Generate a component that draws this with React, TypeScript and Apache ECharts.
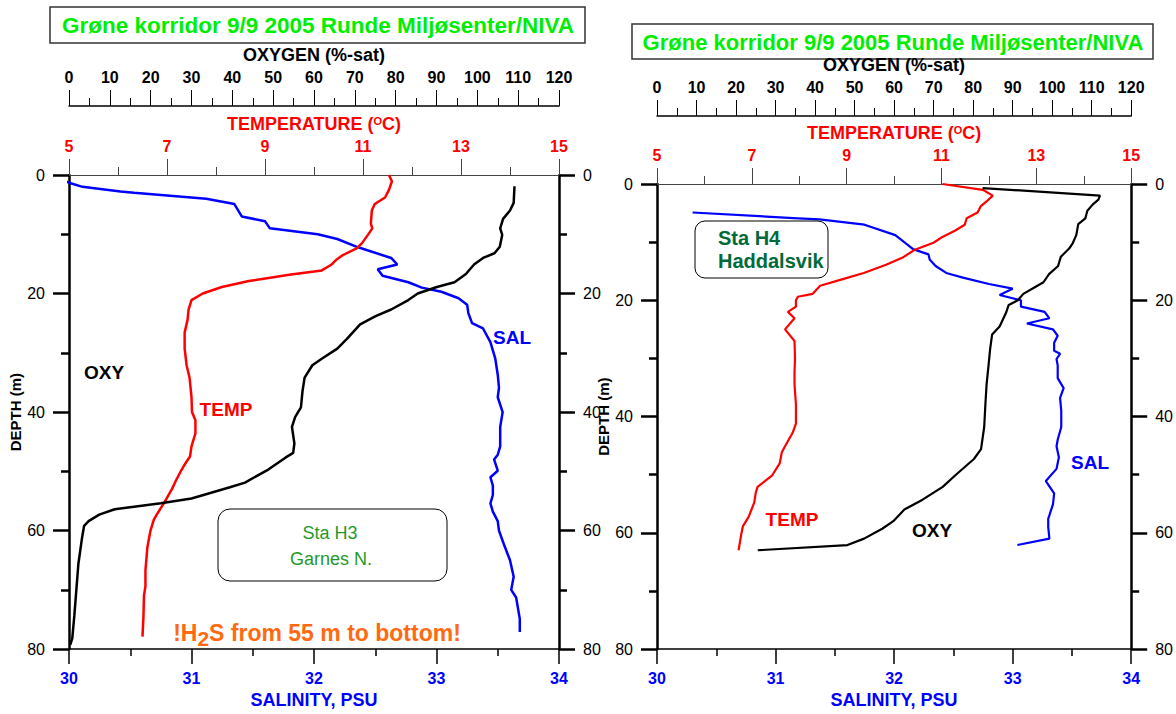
import React, { useEffect, useRef } from "react";
import * as echarts from "echarts";

const FONT = "'Liberation Sans', Arial, sans-serif";

// ---- Tick labels / titles ----
const titleText = "Grøne korridor 9/9 2005 Runde Miljøsenter/NIVA";
const oxygenName = "OXYGEN (%-sat)";
const tempName = "TEMPERATURE ({sup|O}C)";
const salName = "SALINITY, PSU";
const depthName = "DEPTH (m)";

// ---- Station H3 (Garnes N.) ----
const h3SalDepth = [0, 1.3, 2, 2.8, 3, 4, 4.9, 7, 7.8, 9, 10, 10.8, 12.2, 14, 15.1, 15.9, 17, 18.1, 19, 19.7, 20.8, 21.9, 23.3, 25, 25.9, 28.2, 31, 33.7, 35.9, 37.5, 40, 42.5, 45.8, 47.2, 48, 49.9, 51, 52.4, 54, 55.4, 56.8, 58.4, 60, 62.3, 65, 67.8, 70, 71.3, 74.9, 77.1];
const h3Sal = [29.86, 30, 30.11, 30.42, 30.53, 31.12, 31.35, 31.41, 31.6, 31.64, 32.03, 32.19, 32.36, 32.63, 32.68, 32.52, 32.56, 32.77, 32.88, 33.04, 33.18, 33.25, 33.26, 33.29, 33.38, 33.44, 33.48, 33.5, 33.51, 33.5, 33.54, 33.52, 33.52, 33.5, 33.47, 33.5, 33.44, 33.46, 33.46, 33.44, 33.46, 33.5, 33.51, 33.55, 33.6, 33.63, 33.61, 33.65, 33.68, 33.68];

const h3TempDepth = [0, 1.1, 2.5, 3.8, 4.9, 6, 8.2, 9, 10.1, 11.5, 12.4, 13.5, 14.2, 15.1, 16.1, 16.8, 17.9, 18.9, 20, 21.1, 22.7, 24.4, 26.6, 29.3, 32.1, 34.2, 37.5, 40, 41.4, 43.6, 45.8, 47.5, 48.6, 49.7, 51.6, 53, 55.2, 57.3, 58.2, 60.1, 62.8, 66.7, 69.4, 71, 74.4, 77.9];
const h3Temp = [11.53, 11.59, 11.53, 11.45, 11.24, 11.18, 11.16, 11.19, 11.1, 10.98, 10.87, 10.59, 10.47, 10.36, 10.16, 9.53, 8.67, 8.12, 7.73, 7.5, 7.44, 7.42, 7.36, 7.36, 7.4, 7.46, 7.5, 7.51, 7.58, 7.58, 7.5, 7.47, 7.38, 7.3, 7.18, 7.1, 6.95, 6.79, 6.73, 6.66, 6.6, 6.56, 6.56, 6.53, 6.52, 6.5];

const h3OxyDepth = [1.9, 4.7, 6, 7.4, 9, 10.1, 12.1, 13.2, 14, 15.1, 16.7, 18.1, 18.9, 20, 21.1, 22.7, 23.8, 25.2, 27.7, 29.3, 31, 32.1, 34.2, 36.4, 39.2, 40.8, 42.5, 45.3, 46.9, 47.7, 49.7, 51.9, 52.7, 54.6, 55.4, 56.4, 57.3, 58.4, 59.2, 61.2, 65.6, 70, 74.4, 78.2, 79.3];
const h3Oxy = [109.1, 108.9, 108, 106.3, 105.6, 106.1, 105.5, 104.2, 101.4, 99.2, 97.2, 94.4, 90.1, 85.4, 83.1, 78.9, 75.1, 71.3, 68, 65.7, 61.9, 59.6, 57.7, 57.2, 56.8, 55.4, 54.6, 55.2, 54.9, 53, 48.8, 43.1, 39.4, 30, 22.5, 11.2, 7.4, 4.8, 3.7, 3.2, 2.3, 1.8, 1.3, 0.8, 0.3];

// ---- Station H4 (Haddalsvik) ----
const h4SalDepth = [4.9, 5.9, 6.1, 7, 8.8, 9.9, 11.2, 12.1, 13, 14.1, 15.3, 16.1, 17.2, 18, 19.1, 20, 21.1, 22, 23.1, 24, 25, 26.1, 27.3, 28.7, 29.2, 30.1, 31.2, 33.4, 35.1, 36.8, 39, 41.8, 44, 45.1, 47, 49, 51.1, 53.2, 55.1, 57.6, 59, 61, 62.1];
const h4Sal = [30.3, 31.19, 31.37, 31.75, 32.01, 32.08, 32.16, 32.29, 32.3, 32.35, 32.44, 32.58, 32.8, 33, 32.89, 33.07, 33.07, 33.27, 33.31, 33.12, 33.34, 33.38, 33.35, 33.35, 33.4, 33.37, 33.38, 33.38, 33.43, 33.4, 33.41, 33.41, 33.38, 33.37, 33.39, 33.37, 33.28, 33.35, 33.34, 33.3, 33.3, 33.31, 33.04];

const h4TempDepth = [0, 1, 2, 3, 3.8, 4.9, 5.9, 7, 8, 9.1, 10.1, 11.3, 12.7, 13.9, 15.3, 16.4, 17.5, 18.9, 19.4, 20, 21.1, 22, 23.1, 25, 27, 30.1, 32.3, 34.5, 37.9, 41.2, 42.8, 45.1, 46.2, 48, 50.1, 52.1, 53.2, 54.8, 57.3, 58.9, 60.1, 63];
const h4Temp = [11.02, 11.87, 12.08, 11.95, 11.83, 11.76, 11.53, 11.49, 11.29, 11.02, 10.83, 10.44, 10.17, 9.83, 9.36, 8.9, 8.44, 8.28, 7.97, 7.93, 7.93, 7.76, 7.9, 7.7, 7.9, 7.91, 7.9, 7.9, 7.93, 7.93, 7.86, 7.7, 7.63, 7.59, 7.43, 7.12, 7.08, 7.05, 6.93, 6.81, 6.78, 6.72];

const h4OxyDepth = [0.7, 2, 2.7, 3.5, 4.6, 5.9, 6.9, 8.8, 10.2, 11.1, 12.5, 14.1, 15.5, 16.9, 17.8, 18.9, 20, 20.8, 22.2, 24.5, 25.9, 28.4, 31.2, 34.5, 37.9, 41.8, 45.6, 47.3, 50.1, 52.1, 54.3, 56, 58, 59.3, 61, 62.1, 63];
const h4Oxy = [82.4, 112.1, 111.7, 110.3, 108.9, 108.4, 106.6, 106.1, 105.2, 104.3, 102.2, 101.5, 99.2, 97.8, 95.5, 92.7, 91.3, 89, 88.3, 86.7, 84.8, 84.3, 83.9, 83.4, 83.1, 82.8, 82, 80.2, 75.5, 72.3, 67.2, 62.6, 59.8, 57, 52.4, 48.2, 25.5];

const pairs = (vals: number[], depth: number[]) => vals.map((v, i) => [v, depth[i]]);

function salAxis(grid: number) {
  return {
    type: "value", gridIndex: grid, position: "bottom", min: 30, max: 34, interval: 1,
    name: salName, nameLocation: "middle", nameGap: 34,
    nameTextStyle: { color: "#0000ff", fontWeight: "bold", fontSize: 18, fontFamily: FONT },
    axisLine: { show: true, onZero: false, lineStyle: { color: "#000", width: 1.5 } },
    axisTick: { show: true, length: 15, lineStyle: { color: "#000", width: 1.5 } },
    minorTick: { show: true, splitNumber: 2, length: 7, lineStyle: { color: "#000", width: 1.5 } },
    axisLabel: { margin: 21, color: "#0000ff", fontWeight: "bold", fontSize: 16, fontFamily: FONT },
    splitLine: { show: false },
  };
}

function tempAxis(grid: number) {
  return {
    type: "value", gridIndex: grid, position: "top", min: 5, max: 15, interval: 2,
    name: tempName, nameLocation: "middle", nameGap: 39,
    nameTextStyle: {
      color: "#ff0000", fontWeight: "bold", fontSize: 18, fontFamily: FONT,
      rich: { sup: { color: "#ff0000", fontWeight: "bold", fontSize: 11, fontFamily: FONT, verticalAlign: "top" } },
    },
    axisLine: { show: true, onZero: false, lineStyle: { color: "#444", width: 1 } },
    axisTick: { show: true, length: 16, lineStyle: { color: "#444", width: 1 } },
    minorTick: { show: true, splitNumber: 2, length: 8, lineStyle: { color: "#444", width: 1 } },
    axisLabel: { margin: 21, color: "#ff0000", fontWeight: "bold", fontSize: 16, fontFamily: FONT },
    splitLine: { show: false },
  };
}

function oxyAxis(grid: number, offset: number) {
  return {
    type: "value", gridIndex: grid, position: "top", offset, min: 0, max: 120, interval: 10,
    name: oxygenName, nameLocation: "middle", nameGap: 39,
    nameTextStyle: { color: "#000", fontWeight: "bold", fontSize: 18, fontFamily: FONT },
    axisLine: { show: true, onZero: false, lineStyle: { color: "#000", width: 1.5 } },
    axisTick: { show: true, length: 16, lineStyle: { color: "#000", width: 1 } },
    minorTick: { show: true, splitNumber: 2, length: 8, lineStyle: { color: "#000", width: 1 } },
    axisLabel: { margin: 21, color: "#000", fontWeight: "bold", fontSize: 16, fontFamily: FONT },
    splitLine: { show: false },
  };
}

function depthAxis(grid: number, position: string, withName: boolean, gap: number) {
  return {
    type: "value", gridIndex: grid, position, inverse: true, min: 0, max: 80, interval: 20,
    name: withName ? depthName : "", nameLocation: "middle", nameGap: gap,
    nameTextStyle: { color: "#000", fontWeight: "bold", fontSize: 15, fontFamily: FONT },
    axisLine: { show: true, onZero: false, lineStyle: { color: "#000", width: 2.5 } },
    axisTick: { show: true, length: 16, lineStyle: { color: "#000", width: 2.5 } },
    minorTick: { show: true, splitNumber: 2, length: 8, lineStyle: { color: "#000", width: 2.5 } },
    axisLabel: { margin: 24, color: "#000", fontSize: 16, fontFamily: FONT },
    splitLine: { show: false },
  };
}

function line(x: number, y: number, data: number[][], color: string, width: number) {
  return {
    type: "line", xAxisIndex: x, yAxisIndex: y, data, showSymbol: false, symbol: "none",
    clip: false, silent: true, lineStyle: { color, width }, z: 3,
  };
}

function txt(text: string, x: number, y: number, fill: string, font: string, align = "center") {
  return {
    type: "text", silent: true, z: 10,
    style: { text, x, y, fill, font, textAlign: align, textVerticalAlign: "middle" },
  };
}

const B = (size: number) => `bold ${size}px 'Liberation Sans', Arial, sans-serif`;
const N = (size: number) => `${size}px 'Liberation Sans', Arial, sans-serif`;

const option: any = {
  animation: false,
  backgroundColor: "#fff",
  grid: [
    { left: 69, top: 175, width: 490, height: 486, containLabel: false },
    { left: 657, top: 184, width: 476, height: 478, containLabel: false },
  ],
  xAxis: [salAxis(0), tempAxis(0), oxyAxis(0, 69), salAxis(1), tempAxis(1), oxyAxis(1, 68)],
  yAxis: [depthAxis(0, "left", true, 40), depthAxis(0, "right", false, 0), depthAxis(1, "left", true, 34), depthAxis(1, "right", false, 0)],
  series: [
    line(0, 0, pairs(h3Sal, h3SalDepth), "#0000ff", 2.5),
    line(1, 0, pairs(h3Temp, h3TempDepth), "#ff0000", 2.5),
    line(2, 0, pairs(h3Oxy, h3OxyDepth), "#000000", 2.5),
    line(3, 2, pairs(h4Sal, h4SalDepth), "#0000ff", 2.2),
    line(4, 2, pairs(h4Temp, h4TempDepth), "#ff0000", 2.2),
    line(5, 2, pairs(h4Oxy, h4OxyDepth), "#000000", 2.2),
  ],
  graphic: [
    { type: "rect", silent: true, shape: { x: 50, y: 7, width: 535, height: 36 }, style: { fill: "#fff", stroke: "#333", lineWidth: 1.5 } },
    txt(titleText, 318, 25, "#00ee00", B(22.5)),
    { type: "rect", silent: true, shape: { x: 632, y: 24, width: 521, height: 35 }, style: { fill: "#fff", stroke: "#333", lineWidth: 1.5 } },
    txt(titleText, 893, 42, "#00ee00", B(22)),
    // H3 annotations
    txt("OXY", 104, 372, "#000", B(19)),
    txt("TEMP", 226, 409, "#ff0000", B(19)),
    txt("SAL", 512, 337, "#0000ff", B(19)),
    { type: "rect", silent: true, z: 9, shape: { x: 218, y: 509, width: 229, height: 72, r: 12 }, style: { fill: "#fff", stroke: "#000", lineWidth: 1 } },
    txt("Sta H3", 330, 533, "#1f9a2a", N(18)),
    txt("Garnes N.", 331, 559, "#1f9a2a", N(18)),
    {
      type: "text", silent: true, z: 10,
      style: {
        text: "!H{sub|2}S from 55 m to bottom!", x: 317, y: 633, fill: "#ff6a10", font: B(23),
        textAlign: "center", textVerticalAlign: "middle",
        rich: { sub: { font: B(21), fill: "#ff6a10", verticalAlign: "bottom", padding: [10, 0, 0, 0] } },
      },
    },
    // H4 annotations
    { type: "rect", silent: true, z: 9, shape: { x: 695, y: 221, width: 133, height: 57, r: 10 }, style: { fill: "#fff", stroke: "#000", lineWidth: 1 } },
    txt("Sta H4", 718, 238, "#006b3a", B(20), "left"),
    txt("Haddalsvik", 718, 261, "#006b3a", B(20), "left"),
    txt("TEMP", 792, 519, "#ff0000", B(19)),
    txt("OXY", 932, 530, "#000", B(19)),
    txt("SAL", 1090, 462, "#0000ff", B(19)),
  ],
};

export default function App() {
  const ref = useRef<HTMLDivElement>(null);
  useEffect(() => {
    const chart = echarts.init(ref.current as HTMLDivElement, null, { renderer: "svg" });
    chart.setOption(option);
    return () => chart.dispose();
  }, []);
  return <div ref={ref} style={{ position: "absolute", left: 0, top: 0, width: 1176, height: 714, background: "#fff" }} />;
}
